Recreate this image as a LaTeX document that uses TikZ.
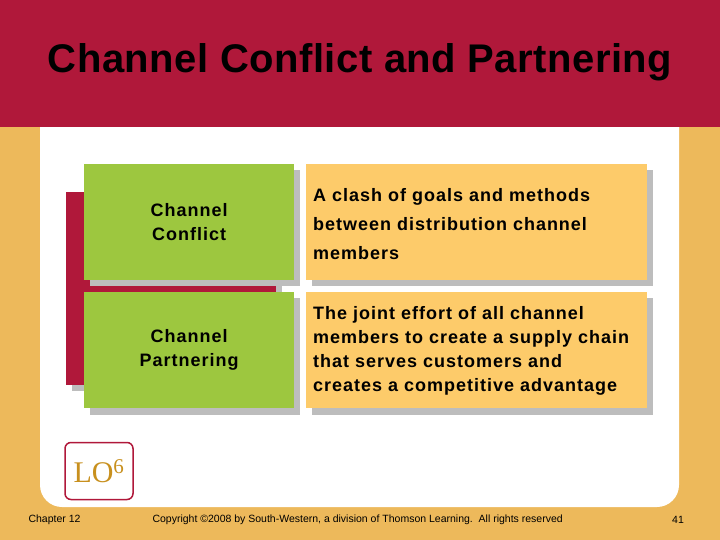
\documentclass[tikz,border=0pt]{standalone}
\usepackage{fontspec}
\setmainfont{Liberation Sans}
\newfontfamily\serifLO{Liberation Serif}
\newfontfamily\spacedsans[LetterSpace=5.5]{Liberation Sans}
\definecolor{slidered}{HTML}{B0183A}
\definecolor{slideorange}{HTML}{EDB95B}
\definecolor{boxgreen}{HTML}{9DC73F}
\definecolor{boxyellow}{HTML}{FDCB6A}
\definecolor{shadowgray}{HTML}{BDBDBD}
\definecolor{logold}{HTML}{C8901E}
\tikzset{
  termbox/.style={fill=boxgreen, align=center, minimum width=210pt, minimum height=116pt, font=\spacedsans\bfseries\fontsize{18}{24}\selectfont, inner sep=0pt},
  defbox/.style={fill=boxyellow, minimum width=341pt, minimum height=116pt, inner sep=0pt},
  deftext/.style={anchor=west, align=left, inner sep=0pt},
  shadow/.style={fill=shadowgray},
  foot/.style={font=\fontsize{10.5}{12}\selectfont}
}
\begin{document}
\begin{tikzpicture}[x=1pt,y=-1pt]
  \useasboundingbox (0,0) rectangle (720,540);
  % background and header
  \fill[slideorange] (0,0) rectangle (720,540);
  \fill[white, rounded corners=22pt] (40,100) rectangle (679,507);
  \fill[slidered] (0,0) rectangle (720,127);
  \node (title) at (360,62) {\addfontfeature{LetterSpace=1.2}\bfseries\fontsize{40}{44}\selectfont Channel Conflict and Partnering};

  % red bracket with shadows
  \fill[shadowgray] (72,198) rectangle (90,391);
  \fill[shadowgray] (90,286) rectangle (282,298);
  \fill[slidered] (66,192) rectangle (84,385);
  \fill[slidered] (84,280) rectangle (276,292);

  % term boxes
  \fill[shadow] (90,170) rectangle (300,286);
  \fill[shadow] (90,298) rectangle (300,415);
  \node[termbox, anchor=north west] (conflict) at (84,164) {Channel\\Conflict};
  \node[termbox, anchor=north west] (partner) at (84,292) {Channel\\Partnering};

  % definition boxes
  \fill[shadow] (312,170) rectangle (653,286);
  \fill[shadow] (312,298) rectangle (653,415);
  \node[defbox, anchor=north west] (conflictbg) at (306,164) {};
  \node[defbox, anchor=north west] (partnerbg) at (306,292) {};
  \node[deftext, font=\spacedsans\bfseries\fontsize{18}{29}\selectfont] (conflictdef) at (313,224) {A clash of goals and methods\\between distribution channel\\members};
  \node[deftext, font=\spacedsans\bfseries\fontsize{18}{24}\selectfont] (partnerdef) at (313,351) {The joint effort of all channel\\members to create a supply chain\\that serves customers and\\creates a competitive advantage};

  % learning objective badge
  \node[draw=slidered, line width=1.5pt, rounded corners=6pt, minimum width=68pt, minimum height=57pt, text=logold, font=\serifLO\fontsize{30}{32}\selectfont, inner sep=0pt] (lo) at (99,471) {LO\textsuperscript{6}};

  % footer
  \node[foot, anchor=west] (chapter) at (25,520) {Chapter 12};
  \node[foot, anchor=west] (copy) at (149,520) {Copyright \textcopyright 2008 by South-Western, a division of Thomson Learning.\ \ All rights reserved};
  \node[foot] (page) at (678,520) {41};
\end{tikzpicture}
\end{document}
